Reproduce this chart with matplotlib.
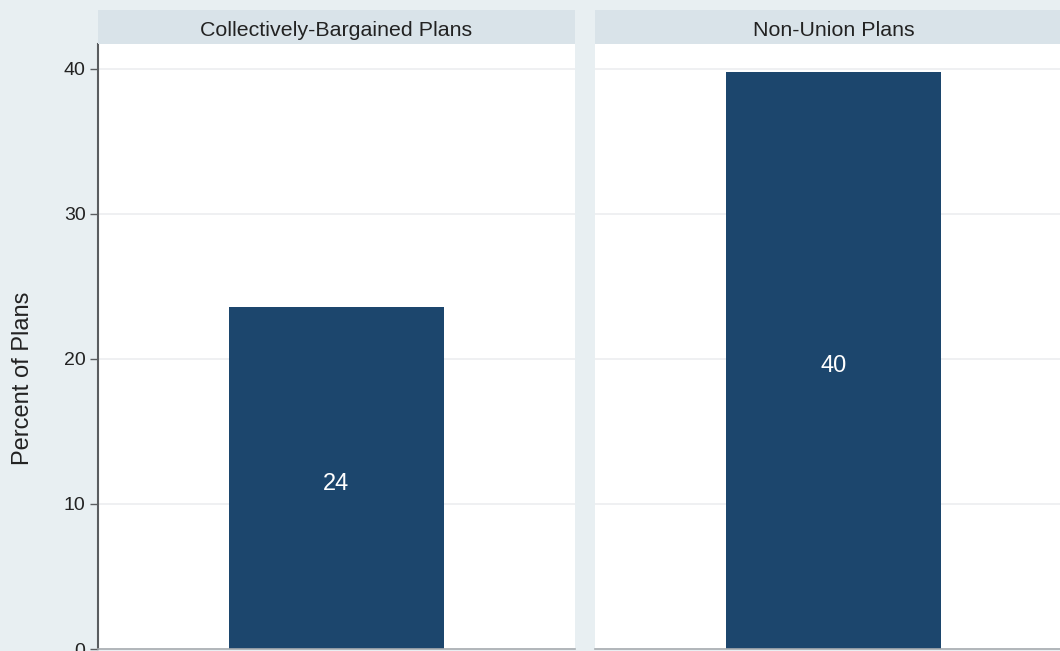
import matplotlib
matplotlib.use("Agg")
import matplotlib.pyplot as plt
from matplotlib.patches import Rectangle

plt.rcParams['font.family'] = ['Liberation Sans', 'DejaVu Sans']

# Data
panels = ["Collectively-Bargained Plans", "Non-Union Plans"]
percent_of_plans = [23.6, 39.8]
y_ticks = [0, 10, 20, 30, 40]
y_label = "Percent of Plans"

BG = "#e8eff2"
STRIP = "#d9e3e9"
BAR = "#1c466d"
GRID = "#eceef0"

W, H = 1060, 651
fig = plt.figure(figsize=(W / 100, H / 100), dpi=100, facecolor=BG)

def fx(px):
    return px / W

def fy(py):
    return 1 - py / H

panel_left = [98, 595]
panel_w = 477
plot_top, plot_bottom = 44, 649
strip_top = 10

axes = []
for i, (name, val) in enumerate(zip(panels, percent_of_plans)):
    x0 = panel_left[i]
    ax = fig.add_axes([fx(x0), fy(plot_bottom), fx(panel_w), (plot_bottom - plot_top) / H])
    ax.set_facecolor("white")
    ax.set_xlim(0, 1)
    ax.set_ylim(0, 41.7)
    ax.set_yticks(y_ticks)
    ax.yaxis.grid(True, color=GRID, linewidth=1.2, zorder=0)
    ax.set_axisbelow(True)
    ax.bar([0.5], [val], width=0.449, color=BAR, edgecolor="none", zorder=2)
    ax.annotate(f"{val:.0f}", xy=(0.5, val / 2), xytext=(0, -2.5),
                textcoords="offset points", color="white", ha="center",
                va="center_baseline", fontsize=17, zorder=3)
    for s in ["top", "right"]:
        ax.spines[s].set_visible(False)
    ax.spines["bottom"].set_color("#a8acb0")
    ax.spines["bottom"].set_linewidth(1.2)
    ax.set_xticks([])
    if i == 0:
        ax.spines["left"].set_color("#5a5d60")
        ax.spines["left"].set_linewidth(1.5)
        ax.tick_params(axis="y", length=6, width=1, color="#5a5d60",
                       labelsize=14, labelcolor="#222222", pad=3)
        ax.set_ylabel(y_label, fontsize=17, color="#222222")
        ax.yaxis.set_label_coords(-0.134, 0.448)
    else:
        ax.spines["left"].set_visible(False)
        ax.tick_params(axis="y", length=0, labelleft=False)
    axes.append(ax)

    # Panel title strip
    fig.patches.append(Rectangle((fx(x0), fy(plot_top)), fx(panel_w),
                                 (plot_top - strip_top) / H,
                                 transform=fig.transFigure, facecolor=STRIP,
                                 edgecolor="none", zorder=1))
    fig.text(fx(x0 + panel_w / 2), fy(28), name,
             ha="center", va="center_baseline", fontsize=15.4, color="#222222")

fig.savefig("out.png", dpi=100, facecolor=BG)
